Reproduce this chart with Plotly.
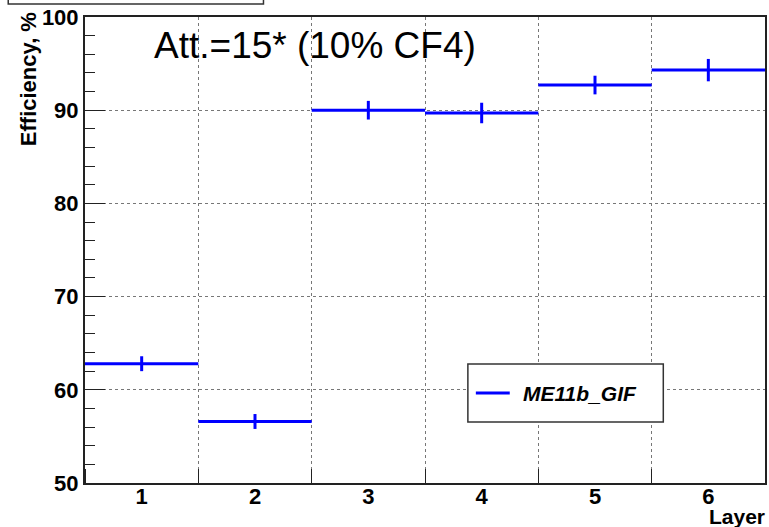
import plotly.graph_objects as go

layers = [1, 2, 3, 4, 5, 6]
layer_labels = ["1", "2", "3", "4", "5", "6"]
efficiency = [62.8, 56.6, 90.0, 89.7, 92.7, 94.3]
eff_err = [0.8, 0.8, 1.0, 1.1, 1.0, 1.2]
bin_half = [0.5, 0.5, 0.5, 0.5, 0.5, 0.5]
series_name = "ME11b_GIF"
title_text = "Att.=15* (10% CF4)"

BLUE = "#0000ff"
FONT = "Liberation Sans, Arial, sans-serif"

fig = go.Figure()
fig.add_trace(go.Scatter(
    x=layers, y=efficiency, mode="markers",
    marker=dict(size=0.1, color=BLUE, opacity=0),
    error_x=dict(type="data", array=bin_half, symmetric=True, width=0, thickness=3, color=BLUE),
    error_y=dict(type="data", array=eff_err, symmetric=True, width=0, thickness=3, color=BLUE),
    showlegend=False, hoverinfo="x+y",
))

L, R, T, B = 85, 2, 17, 44
W, H = 769, 527
pw, ph = W - L - R, H - T - B

def px(xp):
    return (xp - L) / pw

def py(yp):
    return 1 - (yp - T) / ph

fig.update_layout(
    width=W, height=H,
    margin=dict(l=L, r=R, t=T, b=B),
    paper_bgcolor="white", plot_bgcolor="white",
    font=dict(family=FONT, color="black"),
    showlegend=False,
    xaxis=dict(
        range=[0.5, 6.5], tickmode="array", tickvals=layers, ticktext=layer_labels,
        ticks="", showgrid=False, zeroline=False, ticklabelstandoff=-7,
        showline=True, linecolor="#222", linewidth=2, mirror=True,
        tickfont=dict(size=22, family=FONT, weight="bold"),
        minor=dict(tickmode="linear", tick0=0.5, dtick=1, ticks="inside", ticklen=14,
                   tickcolor="#222", tickwidth=1, showgrid=True, gridcolor="#777",
                   griddash="dot", gridwidth=1),
    ),
    yaxis=dict(
        range=[50, 100], tickmode="linear", tick0=50, dtick=10,
        ticks="inside", ticklen=20, tickcolor="#222", tickwidth=1,
        showgrid=True, gridcolor="#777", griddash="dot", gridwidth=1,
        zeroline=False, showline=True, linecolor="#222", linewidth=2, mirror=True,
        tickfont=dict(size=22, family=FONT, weight="bold"),
        minor=dict(dtick=2, ticks="inside", ticklen=10, tickcolor="#222", tickwidth=1, showgrid=False),
    ),
)

# Title text inside the frame
fig.add_annotation(xref="paper", yref="paper", x=px(152), y=py(45), xanchor="left", yanchor="middle",
                   text=title_text, showarrow=False, font=dict(size=37, family=FONT, color="black"))

# Axis titles
fig.add_annotation(xref="paper", yref="paper", x=px(28), y=py(10), xanchor="center", yanchor="top",
                   text="Efficiency, %", textangle=-90, showarrow=False,
                   font=dict(size=22, family=FONT, color="black", weight="bold"))
fig.add_annotation(xref="paper", yref="paper", x=px(769), y=py(530), xanchor="right", yanchor="bottom",
                   text="Layer", showarrow=False,
                   font=dict(size=21, family=FONT, color="black", weight="bold"))

# Legend box (manual)
fig.add_shape(type="rect", xref="paper", yref="paper", x0=px(469), x1=px(665), y0=py(364), y1=py(422),
              line=dict(color="#333", width=1.5), fillcolor="white", layer="above")
fig.add_shape(type="line", xref="paper", yref="paper", x0=px(477), x1=px(511), y0=py(393), y1=py(393),
              line=dict(color=BLUE, width=3), layer="above")
fig.add_annotation(xref="paper", yref="paper", x=px(522), y=py(393), xanchor="left", yanchor="middle",
                   text="<i><b>" + series_name + "</b></i>", showarrow=False,
                   font=dict(size=21, family=FONT, color="black"))

# Cut-off title box at the top-left
fig.add_shape(type="rect", xref="paper", yref="paper", x0=px(8), x1=px(264), y0=py(4), y1=py(-10),
              line=dict(color="#333", width=1.5), fillcolor="white", layer="above")

fig.write_html("out.html")
